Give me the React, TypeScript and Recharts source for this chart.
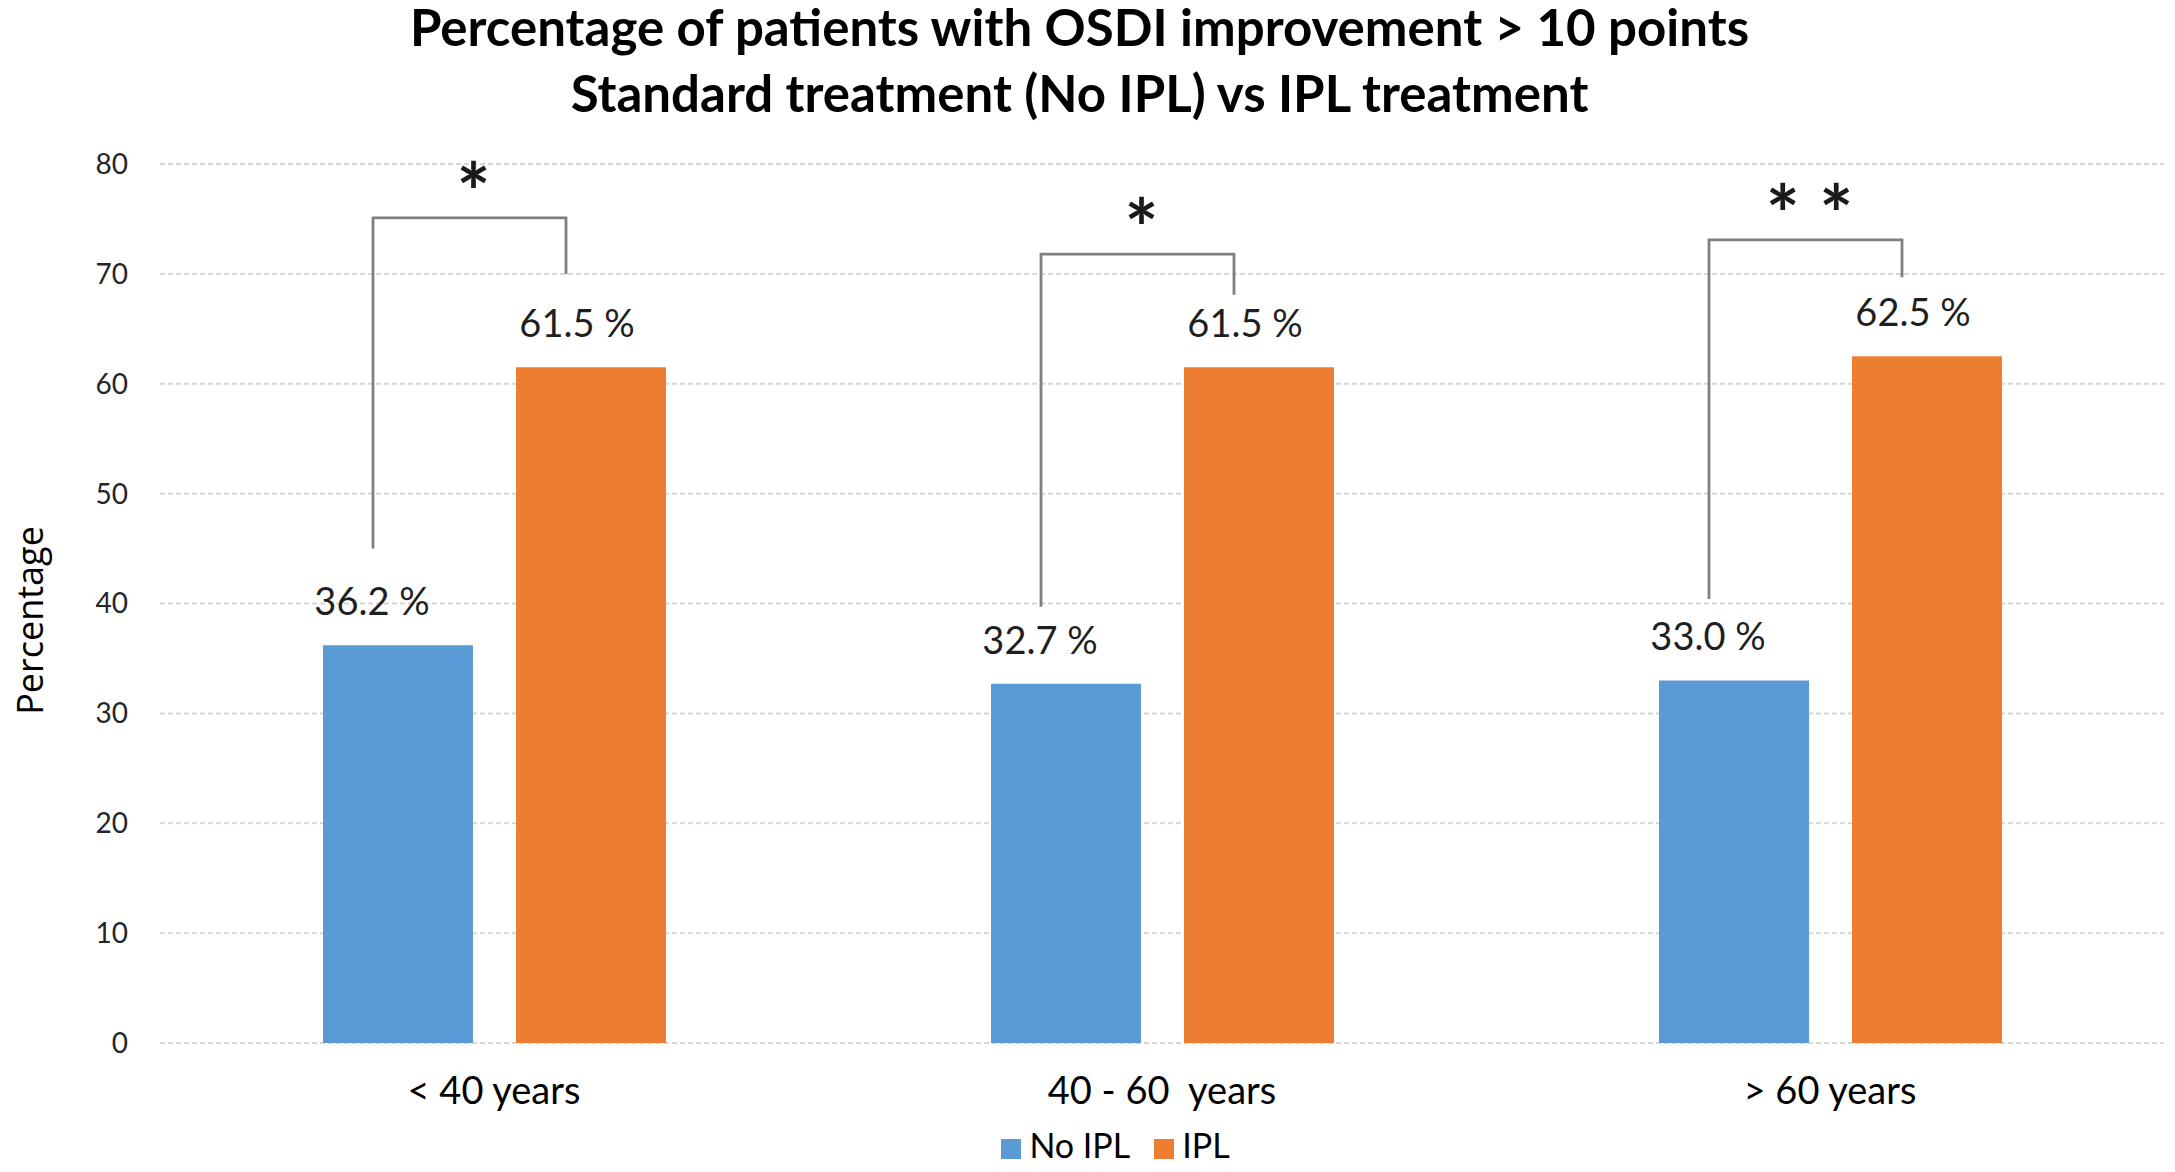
import { BarChart, Bar, XAxis, YAxis, CartesianGrid, Legend, LabelList } from "recharts";

const categories = ["< 40 years", "40 - 60\u00A0 years", "> 60 years"];
const noIplValues = [36.2, 32.7, 33.0];
const iplValues = [61.5, 61.5, 62.5];
const yTicks = [0, 10, 20, 30, 40, 50, 60, 70, 80];
const seriesNames = ["No IPL", "IPL"];

// significance brackets, in percentage units
const bracketStart = [45, 39.7, 40.4];
const bracketTop = [75.1, 71.8, 73.1];
const bracketEnd = [70, 68.1, 69.7];
const significance = ["*", "*", "* *"];

const data = categories.map((name, i) => ({
  name,
  noIpl: noIplValues[i],
  ipl: iplValues[i],
}));

const BLUE = "#5B9BD5";
const ORANGE = "#ED7D31";
const BAR_SIZE = 150;
const BAR_GAP = 43;
const BRACKET_SHIFT = -25;
const FONT = "Lato, 'Open Sans', sans-serif";

const valueLabel = (dx: number) => (props: any) => {
  const vb = props.viewBox ?? props;
  const { x, y, width } = vb;
  return (
    <text
      x={x + width / 2 + dx}
      y={y - 30}
      textAnchor="middle"
      fontSize={38}
      fontFamily={FONT}
      fill="#1f1f1f"
    >
      {`${Number(props.value).toFixed(1)} %`}
    </text>
  );
};

// orange bar + the bracket linking it to its blue neighbour
const IplBar = (props: any) => {
  const { x, y, width, height, index, fill } = props;
  const base = y + height;
  const unit = height / iplValues[index];
  const py = (v: number) => base - v * unit;
  const right = x + width / 2 + BRACKET_SHIFT;
  const left = right - width - BAR_GAP;
  const top = py(bracketTop[index]);
  return (
    <g>
      <rect x={x} y={y} width={width} height={height} fill={fill} />
      <path
        d={`M${left},${py(bracketStart[index])}V${top}H${right}V${py(bracketEnd[index])}`}
        fill="none"
        stroke="#808080"
        strokeWidth={2.8}
      />
      <text
        x={(left + right) / 2 + 4}
        y={top + 4}
        textAnchor="middle"
        fontSize={80}
        fontWeight="bold"
        fontFamily={FONT}
        fill="#1a1a1a"
      >
        {significance[index]}
      </text>
    </g>
  );
};

export default function App() {
  return (
    <div style={{ position: "absolute", left: 0, top: 0, width: 2175, height: 1172, background: "#fff" }}>
      <div
        style={{
          position: "absolute",
          top: -6,
          left: -8,
          width: 2175,
          textAlign: "center",
          fontFamily: FONT,
          fontWeight: "bold",
          fontSize: 51,
          lineHeight: "66px",
          color: "#000",
        }}
      >
        Percentage of patients with OSDI improvement &gt; 10 points
        <br />
        Standard treatment (No IPL) vs IPL treatment
      </div>
      <BarChart
        width={2175}
        height={1172}
        data={data}
        margin={{ top: 164, right: 11, bottom: 0, left: 0 }}
        barSize={BAR_SIZE}
        barGap={BAR_GAP}
      >
        <CartesianGrid vertical={false} stroke="#d6d6d6" strokeWidth={2} strokeDasharray="5 3" />
        <XAxis
          dataKey="name"
          height={129}
          axisLine={false}
          tickLine={false}
          tickSize={0}
          tickMargin={34}
          tick={{ fontSize: 38, fill: "#000", fontFamily: FONT }}
        />
        <YAxis
          domain={[0, 80]}
          ticks={yTicks}
          width={160}
          axisLine={false}
          tickLine={false}
          tickSize={0}
          tickMargin={32}
          tick={{ fontSize: 28, fill: "#262626", fontFamily: FONT }}
          label={{
            value: "Percentage",
            angle: -90,
            position: "insideLeft",
            offset: 30,
            dy: 17,
            style: { textAnchor: "middle", fontSize: 36, fill: "#000", fontFamily: "'Open Sans', sans-serif" },
          }}
        />
        <Legend
          layout="horizontal"
          verticalAlign="middle"
          align="center"
          iconType="square"
          iconSize={20}
          itemSorter={(item: any) => seriesNames.indexOf(item.value)}
          wrapperStyle={{ top: 1124, left: 40, width: 2175, fontSize: 34, fontFamily: FONT }}
          formatter={(value) => (
            <span style={{ color: "#000", marginLeft: 4, marginRight: 14 }}>{value}</span>
          )}
        />
        <Bar dataKey="noIpl" name={seriesNames[0]} fill={BLUE} legendType="square" isAnimationActive={false}>
          <LabelList dataKey="noIpl" content={valueLabel(-26)} />
        </Bar>
        <Bar dataKey="ipl" name={seriesNames[1]} fill={ORANGE} legendType="square" shape={IplBar} isAnimationActive={false}>
          <LabelList dataKey="ipl" content={valueLabel(-14)} />
        </Bar>
      </BarChart>
    </div>
  );
}
